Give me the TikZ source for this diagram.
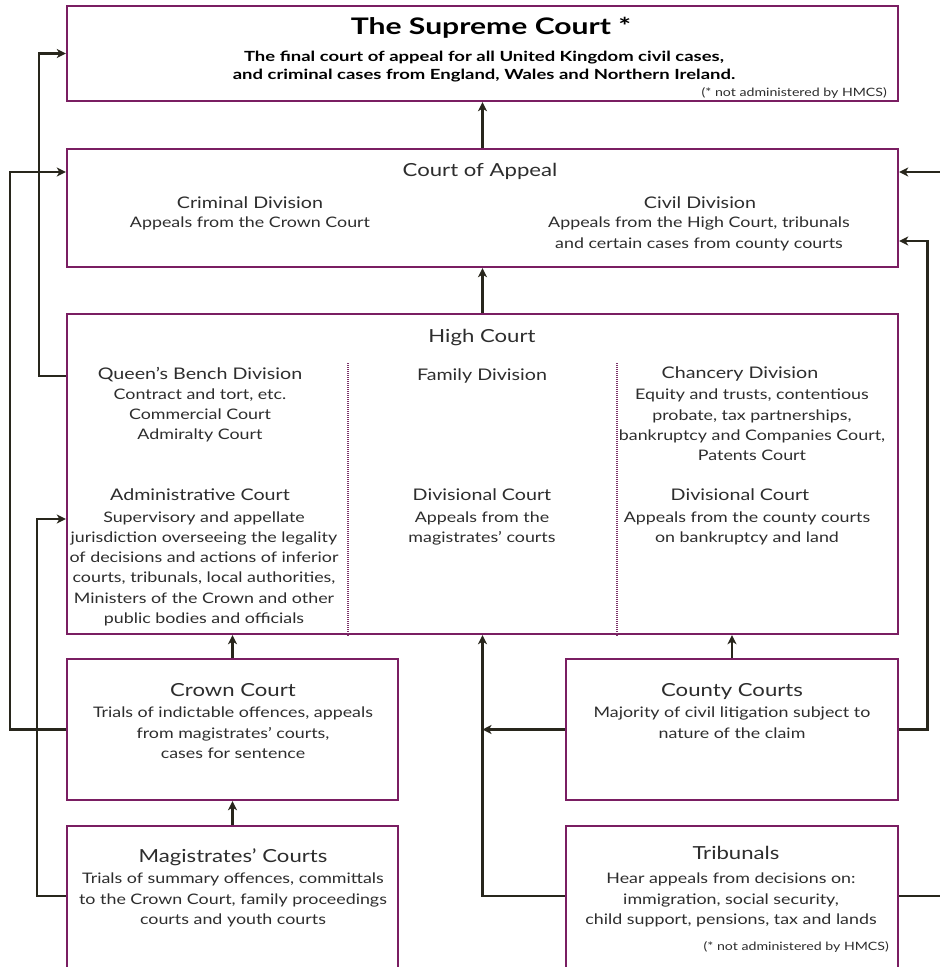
\documentclass[tikz,border=0pt]{standalone}
\usepackage{fontspec}
\setmainfont{Lato}[FakeStretch=1.23,BoldFeatures={FakeStretch=1.32}]
\usetikzlibrary{arrows.meta,calc}
\definecolor{boxpurple}{RGB}{122,30,98}
\definecolor{linecol}{RGB}{40,38,28}
\definecolor{textcol}{RGB}{45,45,45}
\begin{document}
\begin{tikzpicture}[x=1pt,y=-1pt,
  courtbox/.style={draw=boxpurple,line width=2.4pt,rectangle,inner sep=0pt},
  conn/.style={draw=linecol,line width=2.6pt,-{Stealth[length=9pt,width=9pt,inset=2.5pt]}},
  divider/.style={draw=boxpurple!80!gray,line width=1.3pt,dash pattern=on 1pt off 1pt},
  maintitle/.style={font=\bfseries\fontsize{22.8}{26}\selectfont,text=black,inner sep=0pt,anchor=north},
  subtitle/.style={font=\bfseries\fontsize{14}{18}\selectfont,text=black,inner sep=0pt,anchor=north,align=center},
  head/.style={font=\fontsize{18}{22}\selectfont,text=textcol,inner sep=0pt,anchor=north},
  subhead/.style={font=\fontsize{16}{20}\selectfont,text=textcol,inner sep=0pt,anchor=north},
  body/.style={font=\fontsize{14.5}{20.2}\selectfont,text=textcol,inner sep=0pt,anchor=north,align=center},
  note/.style={font=\fontsize{11.5}{13}\selectfont,text=textcol,inner sep=0pt,anchor=north east}]
\clip (0,0) rectangle (940,967);
\fill[white] (0,0) rectangle (940,967);

% boxes
\node[courtbox,minimum width=831pt,minimum height=95pt] (sup) at (482.5,53.5) {};
\node[courtbox,minimum width=831pt,minimum height=118pt] (coa) at (482.5,208) {};
\node[courtbox,minimum width=831pt,minimum height=320pt] (hc) at (482.5,474) {};
\node[courtbox,minimum width=331pt,minimum height=141pt] (crown) at (232.5,729.5) {};
\node[courtbox,minimum width=331pt,minimum height=164pt] (mag) at (232.5,908) {};
\node[courtbox,minimum width=332pt,minimum height=141pt] (county) at (732,729.5) {};
\node[courtbox,minimum width=332pt,minimum height=164pt] (trib) at (732,908) {};

% dividers in High Court
\coordinate (d1) at (348,363);
\coordinate (d2) at (617,363);
\draw[divider] (d1) -- (d1 |- hc.south);
\draw[divider] (d2) -- (d2 |- hc.south);

% Supreme Court texts
\node[maintitle] (supT) at (491,17) {The Supreme Court *};
\node[subtitle] (supB) at (484,51) {The final court of appeal for all United Kingdom civil cases,\\and criminal cases from England, Wales and Northern Ireland.};
\node[note] (supN) at (887,87) {(* not administered by HMCS)};

% Court of Appeal
\node[head] (coaT) at (480,163) {Court of Appeal};
\node[subhead] (crimT) at (250,197) {Criminal Division};
\node[body] (crimB) at (250,217) {Appeals from the Crown Court};
\node[subhead] (civT) at (700,197) {Civil Division};
\node[body] (civB) at (699,217) {Appeals from the High Court, tribunals\\and certain cases from county courts};

% High Court
\node[head] (hcT) at (482,329) {High Court};
\node[subhead] (qbT) at (200,367) {Queen's Bench Division};
\node[body] (qbB) at (200,388.5) {Contract and tort, etc.\\Commercial Court\\Admiralty Court};
\node[subhead] (famT) at (482,369) {Family Division};
\node[subhead] (chT) at (740,367) {Chancery Division};
\node[body] (chB) at (752,389) {Equity and trusts, contentious\\probate, tax partnerships,\\bankruptcy and Companies Court,\\Patents Court};
\node[subhead] (adT) at (200,489) {Administrative Court};
\node[body] (adB) at (204,511.5) {Supervisory and appellate\\jurisdiction overseeing the legality\\of decisions and actions of inferior\\courts, tribunals, local authorities,\\Ministers of the Crown and other\\public bodies and officials};
\node[subhead] (dmT) at (482,489) {Divisional Court};
\node[body] (dmB) at (482,511.5) {Appeals from the\\magistrates' courts};
\node[subhead] (drT) at (740,489) {Divisional Court};
\node[body] (drB) at (747,511.5) {Appeals from the county courts\\on bankruptcy and land};

% Crown Court
\node[head] (crT) at (233,683) {Crown Court};
\node[body] (crB) at (233,707) {Trials of indictable offences, appeals\\from magistrates' courts,\\cases for sentence};

% Magistrates
\node[head] (mgT) at (233,849) {Magistrates' Courts};
\node[body] (mgB) at (233,873) {Trials of summary offences, committals\\to the Crown Court, family proceedings\\courts and youth courts};

% County Courts
\node[head] (ccT) at (732,683) {County Courts};
\node[body] (ccB) at (732,707) {Majority of civil litigation subject to\\nature of the claim};

% Tribunals
\node[head] (trT) at (736,846) {Tribunals};
\node[body] (trB) at (731,873) {Hear appeals from decisions on:\\immigration, social security,\\child support, pensions, tax and lands};
\node[note] (trN) at (889,941) {(* not administered by HMCS)};

% connectors
\draw[conn] (coa.north) -- (sup.south);
\draw[conn] (hc.north) -- (coa.south);
\draw[conn] (crown.north) -- (crown.north |- hc.south);
\draw[conn] (mag.north) -- (crown.south);
\draw[conn] (county.north) -- (county.north |- hc.south);
\draw[conn] ([yshift=12pt]trib.west) -| (hc.south);
\draw[conn] (county.west) -- (hc.south |- county.west);
\draw[conn] (county.east) -- ++(28pt,0pt) |- ([yshift=-33pt]coa.east);
\draw[conn] ([yshift=12pt]trib.east) -- ++(70pt,0pt) |- ([yshift=36pt]coa.east);
\draw[conn] ([yshift=98pt]hc.west) -- ++(-27pt,0pt) |- (sup.west);
\draw[conn] (crown.west) -- ++(-56pt,0pt) |- ([yshift=36pt]coa.west);
\draw[conn] ([yshift=12pt]mag.west) -- ++(-29pt,0pt) |- ([yshift=-45pt]hc.west);
\end{tikzpicture}
\end{document}
